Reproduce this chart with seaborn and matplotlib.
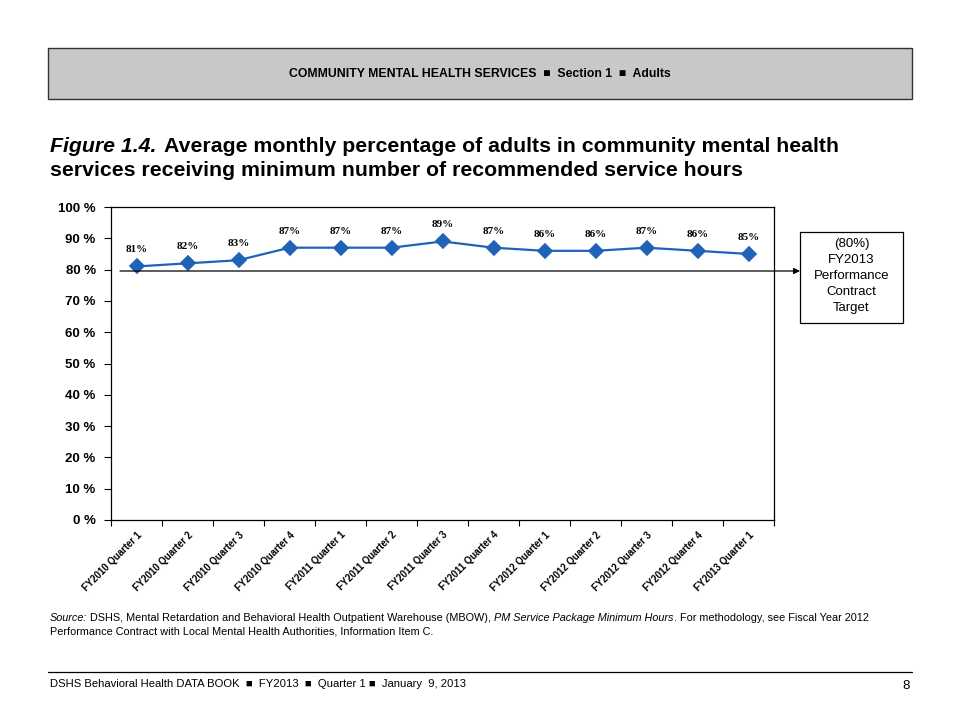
import numpy as np
import pandas as pd
import matplotlib
matplotlib.use('Agg')
import matplotlib.pyplot as plt
import seaborn as sns
from matplotlib.patches import Rectangle

quarters = ['FY2010 Quarter 1', 'FY2010 Quarter 2', 'FY2010 Quarter 3', 'FY2010 Quarter 4',
            'FY2011 Quarter 1', 'FY2011 Quarter 2', 'FY2011 Quarter 3', 'FY2011 Quarter 4',
            'FY2012 Quarter 1', 'FY2012 Quarter 2', 'FY2012 Quarter 3', 'FY2012 Quarter 4',
            'FY2013 Quarter 1']
pct_values = [81, 82, 83, 87, 87, 87, 89, 87, 86, 86, 87, 86, 85]
target = 80
y_ticks = [0, 10, 20, 30, 40, 50, 60, 70, 80, 90, 100]

sns.set_theme(style='white')
plt.rcParams['font.family'] = ['Liberation Sans', 'DejaVu Sans']
plt.rcParams['text.color'] = 'black'
plt.rcParams['xtick.color'] = 'black'
plt.rcParams['ytick.color'] = 'black'

df = pd.DataFrame({'quarter': quarters, 'pct': pct_values})

fig = plt.figure(figsize=(9.6, 7.2), dpi=100)
renderer = fig.canvas.get_renderer()


def fx(px):
    return px / 960


def fy(py):
    return 1 - py / 720


def run_text(x, y, pieces, size):
    # place text pieces one after the other on one line
    for txt, style in pieces:
        t = fig.text(x, y, txt, fontsize=size, fontstyle=style, va='center')
        bb = t.get_window_extent(renderer=renderer)
        x += bb.width / fig.bbox.width


# header band
fig.patches.append(Rectangle((fx(48), fy(99)), fx(864), 51 / 720,
                             transform=fig.transFigure, facecolor='#c8c8c8',
                             edgecolor='#333333', linewidth=1))
fig.text(0.5, fy(74), 'COMMUNITY MENTAL HEALTH SERVICES  \u25a0  Section 1  \u25a0  Adults',
         ha='center', va='center', fontsize=8.8, fontweight='bold')

# title
t1 = fig.text(fx(50), fy(147), 'Figure 1.4.', fontsize=15.3, fontweight='bold',
              fontstyle='italic', va='center')
w1 = t1.get_window_extent(renderer=renderer).width / fig.bbox.width
fig.text(fx(50) + w1 + fx(8), fy(147),
         'Average monthly percentage of adults in community mental health',
         fontsize=15.3, fontweight='bold', va='center')
fig.text(fx(50), fy(171), 'services receiving minimum number of recommended service hours',
         fontsize=15.3, fontweight='bold', va='center')

ax = fig.add_axes([fx(111), fy(520), fx(663), 313 / 720])
sns.pointplot(data=df, x='quarter', y='pct', ax=ax, color='#1f63b8', markers='D',
              errorbar=None, markersize=7, linewidth=1.6)

ax.set_ylim(0, 100)
ax.set_xlim(-0.5, len(quarters) - 0.5)
ax.set_yticks(y_ticks)
ax.set_yticklabels([f'{t} %' for t in y_ticks], fontsize=9.5, fontweight='bold')
ax.set_xticks(np.arange(len(quarters)))
ax.set_xticklabels(quarters, rotation=45, ha='right', rotation_mode='anchor',
                   fontsize=6.9, fontweight='bold')
ax.set_xticks(np.arange(len(quarters) + 1) - 0.5, minor=True)
ax.tick_params(axis='x', which='major', length=0, pad=7)
ax.tick_params(axis='x', which='minor', length=4, width=0.8, direction='out', bottom=True)
ax.tick_params(axis='y', length=5, width=0.8, direction='out', left=True, pad=6)
ax.set_xlabel('')
ax.set_ylabel('')
for s in ax.spines.values():
    s.set_color('black')
    s.set_linewidth(0.9)

for i, v in enumerate(pct_values):
    ax.annotate(f'{v}%', (i, v), xytext=(0, 12), textcoords='offset points',
                ha='center', va='center', fontsize=8, fontweight='bold',
                family='Liberation Serif')

# target line with arrow to the label box
ax.annotate('', xy=(fx(800), fy(271)), xycoords='figure fraction',
            xytext=(fx(120), fy(271)), textcoords='figure fraction',
            arrowprops=dict(arrowstyle='-|>', color='black', lw=0.9, mutation_scale=9,
                            shrinkA=0, shrinkB=0),
            annotation_clip=False)

fig.patches.append(Rectangle((fx(800), fy(323)), fx(103), 91 / 720,
                             transform=fig.transFigure, facecolor='white',
                             edgecolor='black', linewidth=0.9))
fig.text(fx(851.5), fy(276), f'({target}%)\nFY2013\nPerformance\nContract\nTarget',
         ha='center', va='center', fontsize=9.5, linespacing=1.42)

# source note
run_text(fx(50), fy(618), [
    ('Source:', 'italic'),
    (' DSHS, Mental Retardation and Behavioral Health Outpatient Warehouse (MBOW), ', 'normal'),
    ('PM Service Package Minimum Hours', 'italic'),
    ('. For methodology, see Fiscal Year 2012', 'normal'),
], 7.8)
fig.text(fx(50), fy(632),
         'Performance Contract with Local Mental Health Authorities, Information Item C.',
         fontsize=7.8, va='center')

# footer
fig.add_artist(plt.Line2D([fx(48), fx(912)], [fy(672), fy(672)],
                          transform=fig.transFigure, color='black', linewidth=0.9))
fig.text(fx(50), fy(684),
         'DSHS Behavioral Health DATA BOOK  \u25a0  FY2013  \u25a0  Quarter 1 \u25a0  January  9, 2013',
         fontsize=8.1, va='center')
fig.text(fx(910), fy(686), '8', fontsize=9.5, ha='right', va='center')

fig.savefig('out.png', dpi=100)
